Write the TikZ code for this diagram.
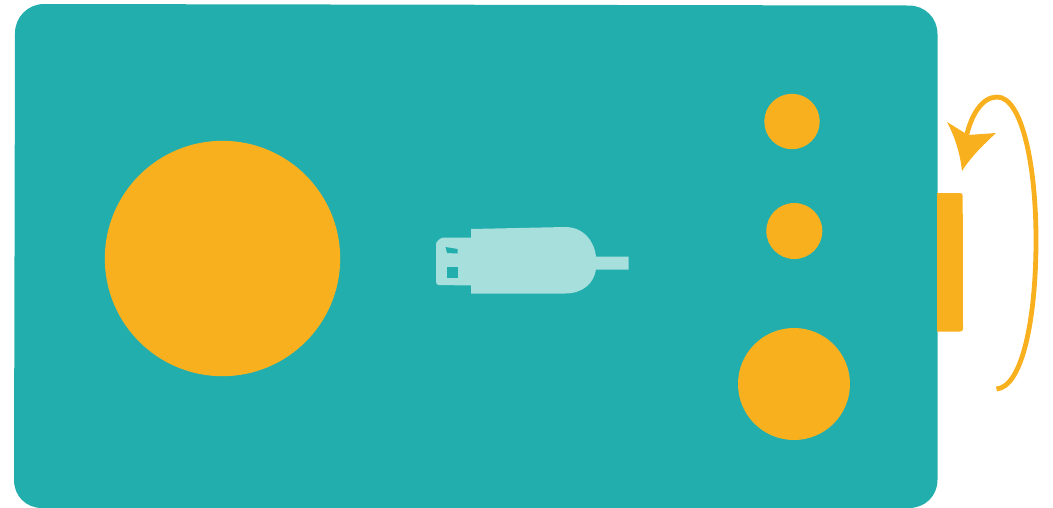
\documentclass[tikz,border=0pt]{standalone}
\definecolor{tealbg}{HTML}{22AEAD}
\definecolor{amber}{HTML}{F9B01F}
\definecolor{usblight}{HTML}{A7DFDD}
\tikzset{amberfill/.style={fill=amber,draw=none},usbfill/.style={fill=usblight,draw=none},holefill/.style={fill=tealbg,draw=none}}
\begin{document}
\begin{tikzpicture}[x=1pt,y=-1pt]
\useasboundingbox (0,0) rectangle (1053,507);
% body
\fill[tealbg] (44,4) -- (909,5.5) .. controls (925,5.5) and (937.5,18) .. (937.5,34)
 -- (937.5,480) .. controls (937.5,496) and (925,508) .. (909,508)
 -- (42,508) .. controls (26,508) and (14,496) .. (14,480)
 -- (15,33) .. controls (15,17) and (28,4) .. (44,4) -- cycle;
% circles
\fill[amberfill] (222.5,258.5) circle (117.7);
\fill[amberfill] (792,121.5) circle (27.7);
\fill[amberfill] (794.3,231) circle (28);
\fill[amberfill] (794,384) circle (56);
% side tab
\fill[amberfill] (937,193) -- (960,193) .. controls (962,193) and (962.7,194) .. (962.7,196)
 -- (963,328.5) .. controls (963,330.5) and (962,331.5) .. (960,331.5) -- (937,331.5) -- cycle;
% usb
\fill[usbfill] (471,229) -- (565,227) .. controls (583,227) and (594,240) .. (596,256.5)
 -- (628.5,256.5) -- (628.5,269.5) -- (596,269.5)
 .. controls (594,283) and (583,293.5) .. (565,293.5) -- (471,293.5) -- (471,285.5)
 -- (439,285) .. controls (437,285) and (436,284) .. (436,282) -- (436,244)
 .. controls (436,241) and (441,237.5) .. (444,237.5) -- (471,237.5) -- cycle;
\fill[holefill] (445.5,247) -- (457.5,249) -- (457.5,253.5) -- (447,253) -- cycle;
\fill[holefill] (447,267) rectangle (457.5,277.5);
% rotation arrow
\draw[amber,line width=4.8pt] (996.5,389) .. controls (1022,387) and (1036,320) .. (1036,240)
 .. controls (1036,165) and (1022,97) .. (997,97)
 .. controls (982,97) and (971,115) .. (966,138);
\fill[amberfill] (947,122) -- (968,135) -- (996,133)
 .. controls (982,146) and (971,157) .. (962,171)
 .. controls (960,153) and (955,137) .. (947,122) -- cycle;
\end{tikzpicture}
\end{document}
